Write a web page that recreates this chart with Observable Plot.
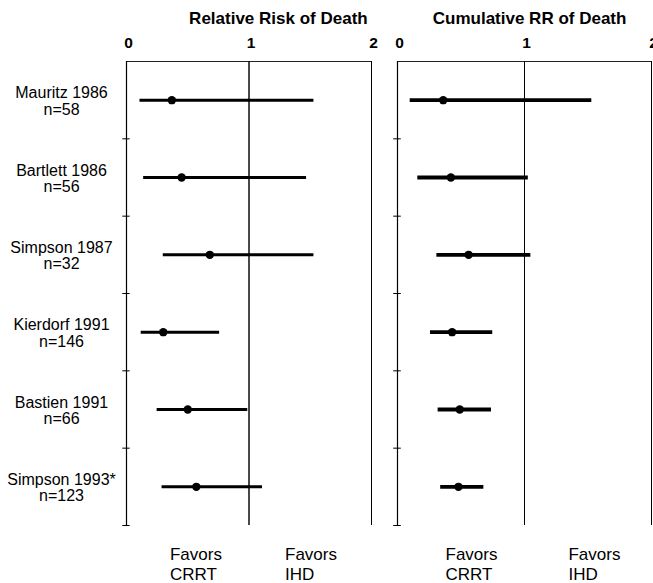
<!DOCTYPE html>
<html><head><meta charset="utf-8">
<script src="https://cdn.jsdelivr.net/npm/d3@7"></script>
<script src="https://cdn.jsdelivr.net/npm/@observablehq/plot@0.6"></script>
<style>
body{margin:0;overflow:hidden;background:#fff;}
#wrap{position:relative;width:653px;height:583px;overflow:hidden;}
#left,#right{position:absolute;top:0;}
#left{left:0}
#right{left:385px}
</style></head><body><div id="wrap"><div id="left"></div><div id="right"></div></div>
<script>
const studies = ["Mauritz 1986", "Bartlett 1986", "Simpson 1987", "Kierdorf 1991", "Bastien 1991", "Simpson 1993*"];
const sizes = [58, 56, 32, 146, 66, 123];
const rr = [0.37, 0.45, 0.68, 0.30, 0.50, 0.57];
const rrLo = [0.11, 0.14, 0.30, 0.12, 0.25, 0.29];
const rrHi = [1.53, 1.47, 1.53, 0.76, 0.99, 1.11];
const cumRR = [0.36, 0.42, 0.56, 0.43, 0.49, 0.48];
const cumLo = [0.10, 0.16, 0.31, 0.26, 0.32, 0.34];
const cumHi = [1.53, 1.03, 1.05, 0.75, 0.74, 0.68];
const xTicks = [0, 1, 2];
const rowTicks = [1, 2, 3, 4, 5, 6];
const favors = ["Favors\nCRRT", "Favors\nIHD"];

const FONT = "Liberation Sans, Arial, Helvetica, sans-serif";

function panel({title, titleX, est, lo, hi, width, marginLeft, marginRight, showLabels, favorsX, sw}) {
  const rows = studies.map((s, i) => ({s, n: sizes[i], i, est: est[i], lo: lo[i], hi: hi[i]}));
  const marks = [
    Plot.ruleX([1, 2], {y1: 0, y2: 6, stroke: "#222", strokeWidth: 1}),
    Plot.ruleX([0], {y1: 0, y2: 6, stroke: "#000", strokeWidth: 1.2}),
    Plot.ruleY([0], {x1: 0, x2: 2, stroke: "#222", strokeWidth: 1}),
    Plot.ruleY(rowTicks, {x1: -0.03, x2: 0.03, stroke: "#000", strokeWidth: 1}),
    Plot.tickX(xTicks, {x: d => d, y1: -0.05, y2: 0, stroke: "#000", strokeWidth: 1}),
    Plot.text(xTicks, {x: d => d, frameAnchor: "top", dy: -18, dx: 2, text: d => String(d), fontSize: 15.5, fontWeight: "bold", lineAnchor: "middle"}),
    Plot.ruleY(rows, {y: d => d.i + 0.5, x1: "lo", x2: "hi", stroke: "#000", strokeWidth: sw}),
    Plot.dot(rows, {y: d => d.i + 0.5, x: "est", r: 4.2, fill: "#000", stroke: "none"}),
    Plot.text([title], {x: titleX, frameAnchor: "top", dy: -43, text: d => d, fontSize: 17, fontWeight: "bold", textAnchor: "middle", lineAnchor: "middle"}),
    Plot.text(favors, {x: (d, i) => favorsX[i], frameAnchor: "bottom", dy: 38, text: d => d, fontSize: 17, textAnchor: "start", lineAnchor: "middle", lineHeight: 1.18})
  ];
  if (showLabels) {
    marks.push(Plot.text(rows, {y: d => d.i + 0.5, frameAnchor: "left", dx: -65, dy: 1, text: d => d.s + "\nn=" + d.n, fontSize: 16, textAnchor: "middle", lineAnchor: "middle", lineHeight: 1.03}));
  }
  return Plot.plot({
    width, height: 583,
    marginLeft, marginRight, marginTop: 61, marginBottom: 58,
    x: {domain: [0, 2], axis: null},
    y: {domain: [0, 6], reverse: true, axis: null},
    style: {fontFamily: FONT, background: "#fff", color: "#000", overflow: "visible"},
    marks
  });
}

document.getElementById("left").append(panel({
  title: "Relative Risk of Death", titleX: 1.24, est: rr, lo: rrLo, hi: rrHi,
  width: 385, marginLeft: 126, marginRight: 14, showLabels: true, favorsX: [0.355, 1.294], sw: 3
}));
document.getElementById("right").append(panel({
  title: "Cumulative RR of Death", titleX: 1.04, est: cumRR, lo: cumLo, hi: cumHi,
  width: 268, marginLeft: 12, marginRight: 2, showLabels: false, favorsX: [0.378, 1.346], sw: 3.8
}));
</script>
</body></html>
